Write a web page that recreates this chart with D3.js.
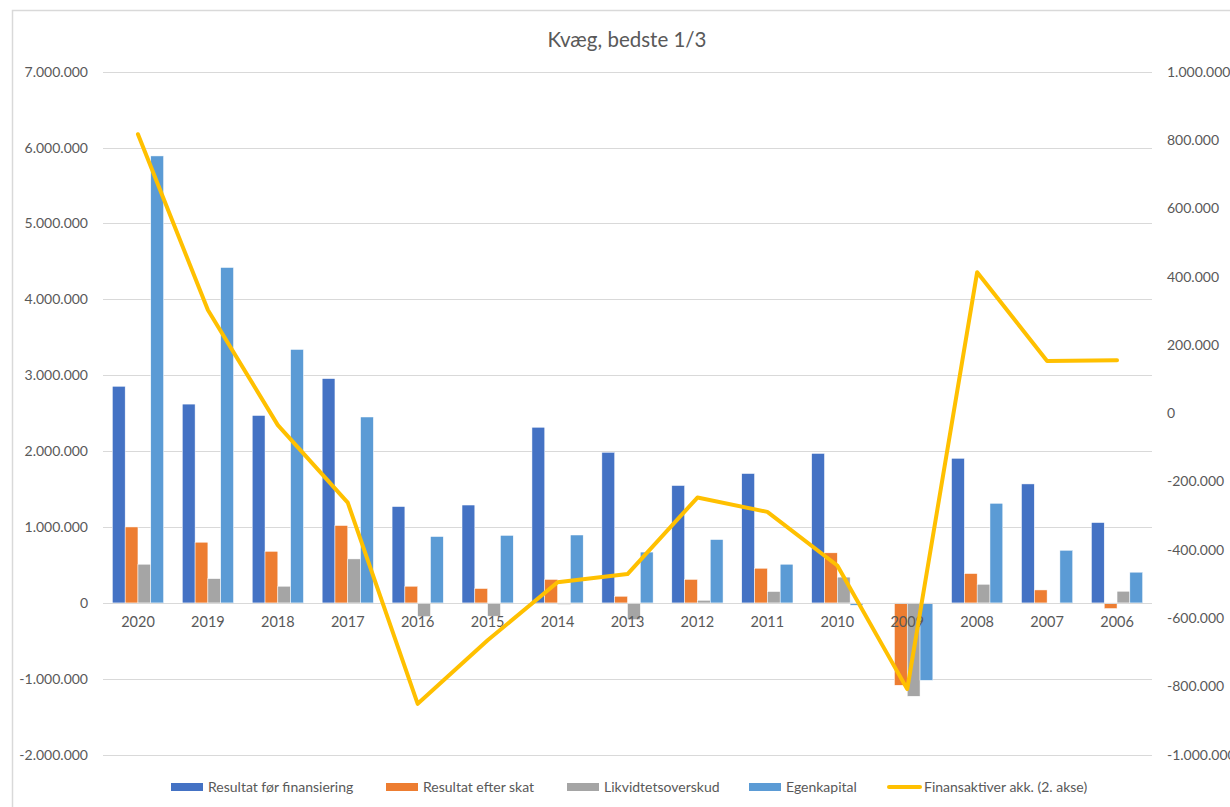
<!DOCTYPE html>
<meta charset="utf-8">
<style>
    body { margin: 0; background: #fff; }
    text { font-family: Lato, "Open Sans", sans-serif; fill: #595959; }
    .grid line { stroke: #d9d9d9; stroke-width: 1px; }
    .ticks { font-size: 14px; }
    .legend { font-size: 14px; }
</style>
<svg id="svg" width="1230" height="807"></svg>

<script src="https://d3js.org/d3.v7.min.js"></script>
<script>

var years = ["2020","2019","2018","2017","2016","2015","2014","2013","2012","2011","2010","2009","2008","2007","2006"];

var seriesNames = ["Resultat før finansiering", "Resultat efter skat", "Likvidtetsoverskud", "Egenkapital"];
var lineName = "Finansaktiver akk. (2. akse)";

var resultatFoer = [2855000, 2620000, 2470000, 2956000, 1270000, 1290000, 2315000, 1985000, 1547000, 1705000, 1970000, 0, 1906000, 1568000, 1059000];
var resultatEfter = [1001000, 800000, 680000, 1020000, 220000, 190000, 310000, 88000, 310000, 457000, 660000, -1085000, 387000, 171000, -74000];
var likviditet = [510000, 320000, 220000, 580000, -180000, -175000, -20000, -220000, 35000, 150000, 340000, -1230000, 246000, 0, 154000];
var egenkapital = [5890000, 4420000, 3340000, 2450000, 875000, 890000, 895000, 670000, 835000, 510000, -30000, -1020000, 1313000, 694000, 405000];
var finansaktiver = [817000, 302000, -35000, -262000, -851000, -665000, -495000, -471000, -247000, -289000, -446000, -808000, 413000, 153000, 155000];

var leftTicks = [-2000000, -1000000, 0, 1000000, 2000000, 3000000, 4000000, 5000000, 6000000, 7000000];
var rightTicks = [-1000000, -800000, -600000, -400000, -200000, 0, 200000, 400000, 600000, 800000, 1000000];

var colors = ["#4472C4", "#ED7D31", "#A5A5A5", "#5B9BD5"];
var lineColor = "#FFC000";

var svg = d3.select("#svg");

var plotLeft = 103, plotRight = 1152, plotTop = 71.7, plotBottom = 754.7;

var locale = d3.formatLocale({decimal: ",", thousands: ".", grouping: [3], currency: ["", ""], minus: "-"});
var fmt = locale.format(",d");

var x = d3.scaleBand().domain(years).range([plotLeft, plotRight]).paddingInner(0).paddingOuter(0);
var xs = d3.scaleBand().domain(d3.range(4)).range([0, x.bandwidth()]).paddingInner(0).paddingOuter(0.73);
var y = d3.scaleLinear().domain([-2000000, 7000000]).range([plotBottom, plotTop]);
var y2 = d3.scaleLinear().domain([-1000000, 1000000]).range([plotBottom, plotTop]);

// chart border
svg.append("rect")
    .attr("x", 12.5).attr("y", 10.5)
    .attr("width", 1240).attr("height", 820)
    .attr("fill", "none").attr("stroke", "#d9d9d9").attr("stroke-width", 1.5);

// title
svg.append("text")
    .attr("x", 627).attr("y", 47)
    .attr("text-anchor", "middle")
    .style("font-size", "20.5px")
    .text("Kvæg, bedste 1/3");

// gridlines
svg.append("g").attr("class", "grid")
  .selectAll("line").data(leftTicks).enter().append("line")
    .attr("x1", plotLeft).attr("x2", plotRight)
    .attr("y1", function(d) { return Math.round(y(d)) + 0.5; })
    .attr("y2", function(d) { return Math.round(y(d)) + 0.5; });

// left axis
var yAxis = d3.axisLeft(y).tickValues(leftTicks).tickFormat(fmt).tickSize(0).tickPadding(15);
var gy = svg.append("g").attr("class", "ticks").attr("transform", "translate(" + plotLeft + ",0)").call(yAxis);
gy.select(".domain").remove();
gy.selectAll("text").attr("fill", "#595959").style("font-size", "14px").style("font-family", "Lato, sans-serif");

// right axis
var y2Axis = d3.axisRight(y2).tickValues(rightTicks).tickFormat(fmt).tickSize(0).tickPadding(15);
var gy2 = svg.append("g").attr("class", "ticks").attr("transform", "translate(" + plotRight + ",0)").call(y2Axis);
gy2.select(".domain").remove();
gy2.selectAll("text").attr("fill", "#595959").style("font-size", "14px").style("font-family", "Lato, sans-serif");

// bars
var allSeries = [resultatFoer, resultatEfter, likviditet, egenkapital];
var barData = [];
years.forEach(function(yr, i) {
  allSeries.forEach(function(s, k) {
    barData.push({year: yr, k: k, v: s[i]});
  });
});

svg.append("g").selectAll("rect").data(barData).enter().append("rect")
    .attr("x", function(d) { return x(d.year) + xs(d.k); })
    .attr("width", xs.bandwidth())
    .attr("y", function(d) { return d.v >= 0 ? y(d.v) : y(0); })
    .attr("height", function(d) { return Math.abs(y(d.v) - y(0)); })
    .attr("fill", function(d) { return colors[d.k]; })
    .attr("stroke", "#fff").attr("stroke-width", 0.5);

// category axis
svg.append("line")
    .attr("x1", plotLeft).attr("x2", plotRight)
    .attr("y1", Math.round(y(0)) + 0.5).attr("y2", Math.round(y(0)) + 0.5)
    .attr("stroke", "#d9d9d9").attr("stroke-width", 1);

var xAxis = d3.axisBottom(x).tickSize(0).tickPadding(14);
var gx = svg.append("g").attr("class", "ticks").attr("transform", "translate(0," + y(0) + ")").call(xAxis);
gx.select(".domain").remove();
gx.selectAll("text").attr("fill", "#595959").style("font-size", "14.5px").style("font-family", "Lato, sans-serif");

// line on secondary axis
var line = d3.line()
    .x(function(d, i) { return x(years[i]) + x.bandwidth() / 2; })
    .y(function(d) { return y2(d); });

svg.append("path")
    .datum(finansaktiver)
    .attr("d", line)
    .attr("fill", "none")
    .attr("stroke", lineColor)
    .attr("stroke-width", 4)
    .attr("stroke-linejoin", "round")
    .attr("stroke-linecap", "round");

// legend
var legendX = [171, 386, 567, 749];
var leg = svg.append("g").attr("class", "legend");
seriesNames.forEach(function(name, k) {
  leg.append("rect")
      .attr("x", legendX[k]).attr("y", 783)
      .attr("width", 32).attr("height", 8)
      .attr("fill", colors[k]);
  leg.append("text")
      .attr("x", legendX[k] + 37).attr("y", 792)
      .text(name);
});
leg.append("line")
    .attr("x1", 889).attr("x2", 920)
    .attr("y1", 787).attr("y2", 787)
    .attr("stroke", lineColor).attr("stroke-width", 4).attr("stroke-linecap", "round");
leg.append("text")
    .attr("x", 924).attr("y", 792)
    .text(lineName);

</script>
